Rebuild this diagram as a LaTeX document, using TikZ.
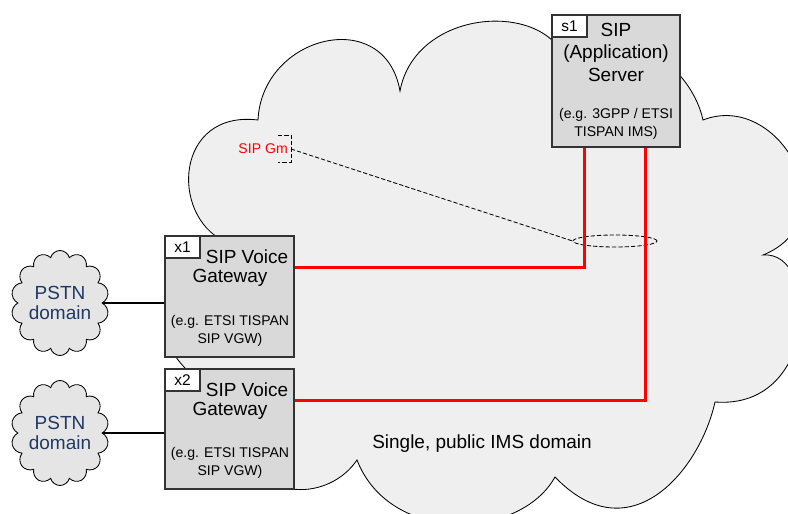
\documentclass[tikz,border=0pt]{standalone}
\usepackage{fontspec}
\setmainfont{Liberation Sans}
\usetikzlibrary{shapes.symbols,shapes.geometric,calc}
\definecolor{imsgray}{RGB}{239,239,239}
\definecolor{boxgray}{RGB}{217,217,217}
\definecolor{pstnblue}{RGB}{31,56,100}
\definecolor{gmred}{RGB}{255,0,0}
\begin{document}
\begin{tikzpicture}[x=0.025cm,y=-0.025cm,
	elem/.style={draw=black!80,fill=boxgray,line width=.8pt,inner sep=0pt},
	tag/.style={draw=black!80,fill=white,line width=.8pt,minimum width=.875cm,minimum height=.55cm,inner sep=0pt,font=\fontsize{11}{12}\selectfont},
	big/.style={font=\fontsize{13.5}{16}\selectfont,align=center,inner sep=0pt},
	small/.style={font=\fontsize{10}{12.8}\selectfont,align=center,inner sep=0pt},
	sigline/.style={gmred,line width=2pt},
	gmline/.style={line width=.6pt,dash pattern=on 3pt off 1.5pt},
	pstn/.style={cloud,cloud puffs=14,cloud ignores aspect,draw,fill=black!10,line width=.6pt,minimum width=2.45cm,minimum height=2.625cm,text=pstnblue,font=\fontsize{13.5}{14.2}\selectfont,align=center,inner sep=0pt}]
	\useasboundingbox (0,0) rectangle (788,513);
	\fill[white] (0,0) rectangle (788,513);
	% IMS domain cloud
	\begin{scope}
		\clip (0,0) rectangle (788,513);
		\draw[fill=imsgray,line width=.6pt] (224,241) .. controls (170,215) and (175,110) .. (258,120)
			.. controls (262,35) and (385,5) .. (400,91)
			.. controls (415,10) and (540,0) .. (565,58)
			.. controls (610,10) and (690,60) .. (703,120)
			.. controls (780,90) and (850,220) .. (763,255)
			.. controls (820,250) and (820,410) .. (715,402)
			.. controls (700,470) and (630,555) .. (555,477)
			.. controls (520,540) and (390,545) .. (357,460)
			.. controls (330,500) and (260,505) .. (240,440)
			.. controls (230,380) and (140,370) .. (175,300)
			-- cycle;
	\end{scope}
	\node at (482,444) [big] (imstext) {Single, public IMS domain};
	% Gm reference point
	\node[draw,ellipse,gmline,minimum width=2.1cm,minimum height=.3cm,inner sep=0pt] (bundle) at (615,241) {};
	\coordinate (gmtip) at (291,149);
	\draw[gmline] (278,135) -- (291,135) -- (291,162) -- (278,162);
	\draw[gmline] (gmtip) -- (bundle.west);
	\node[text=gmred,font=\fontsize{10}{12}\selectfont,anchor=east,inner sep=0pt] (gm) at (288,149) {SIP Gm};
	% application server
	\node[elem,minimum width=3.2cm,minimum height=3.3cm] (s1) at (616,81) {};
	\node[tag,anchor=north west] (s1tag) at (s1.north west) {s1};
	\node[big] (s1name) at (616,52) {SIP\\(Application)\\Server};
	\node[small] (s1ex) at (616,124) {(e.g. 3GPP / ETSI\\TISPAN IMS)};
	% voice gateways
	\node[elem,minimum width=3.225cm,minimum height=3.025cm] (x1) at (229.5,296.5) {};
	\node[tag,anchor=north west] (x1tag) at (x1.north west) {x1};
	\node[big] (x1name) at (247,257) {SIP Voice};
	\node[big] (x1gw) at (230,278) {Gateway};
	\node[small] (x1ex) at (230,331) {(e.g. ETSI TISPAN\\SIP VGW)};
	\node[elem,minimum width=3.225cm,minimum height=3cm] (x2) at (229.5,429) {};
	\node[tag,anchor=north west] (x2tag) at (x2.north west) {x2};
	\node[big] (x2name) at (247,390) {SIP Voice};
	\node[big] (x2gw) at (230,411) {Gateway};
	\node[small] (x2ex) at (230,463) {(e.g. ETSI TISPAN\\SIP VGW)};
	% SIP links
	\draw[sigline] ($(x1.north east)!.265!(x1.south east)$) -| ($(s1.south west)!.258!(s1.south east)$);
	\draw[sigline] ($(x2.north east)!.267!(x2.south east)$) -| ($(s1.south west)!.727!(s1.south east)$);
	% PSTN side
	\node[pstn] (pstn1) at (60,303) {PSTN\\domain};
	\node[pstn] (pstn2) at (60,433) {PSTN\\domain};
	\draw[line width=1.8pt] (pstn1.east) -- (x1.west |- pstn1.east);
	\draw[line width=1.8pt] (pstn2.east) -- (x2.west |- pstn2.east);
\end{tikzpicture}
\end{document}
